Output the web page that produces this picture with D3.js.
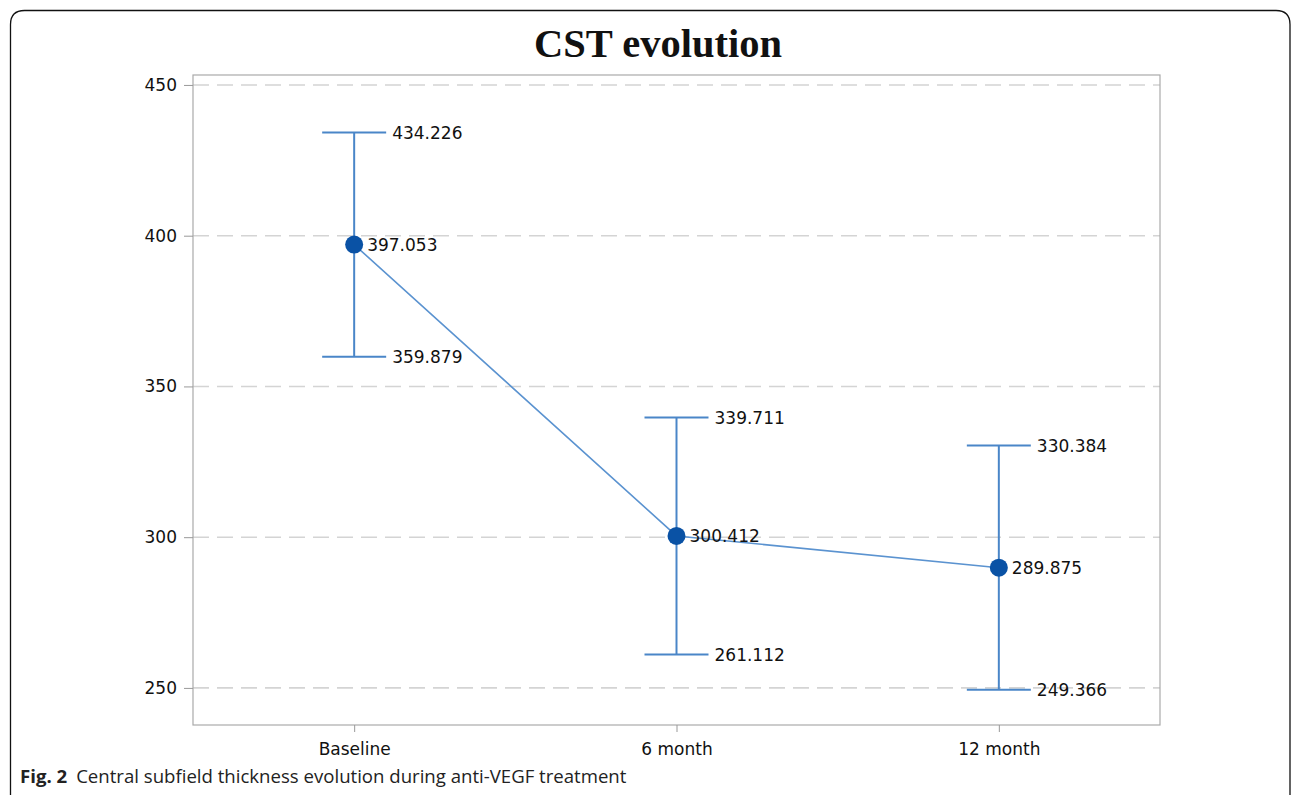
<!DOCTYPE html>
<html>
<head>
<meta charset="utf-8">
<script src="https://cdn.jsdelivr.net/npm/d3@7"></script>
<style>
  body { margin: 0; background: #fff; }
  svg { display: block; }
</style>
</head>
<body>
<div class="chart"></div>
<script>
// CST evolution - mean with confidence limits per visit

var w = 1292, h = 795;

var categories = ['Baseline', '6 month', '12 month'];
var means = [397.053, 300.412, 289.875];
var lower = [359.879, 261.112, 249.366];
var upper = [434.226, 339.711, 330.384];
var yTicks = [250, 300, 350, 400, 450];

var rows = categories.map(function(c, i) {
	return { cat: c, mean: means[i], lo: lower[i], hi: upper[i] };
});

var frame = { left: 193, right: 1160, top: 75, bottom: 725 };

var svg = d3.select('.chart').append('svg')
	.attr('width', w)
	.attr('height', h);

// outer figure border (rounded, runs off the bottom)
var r = 14;
svg.append('path')
	.attr('d', 'M10.5,' + (h + 5) + ' L10.5,' + (10.5 + r) +
		' Q10.5,10.5 ' + (10.5 + r) + ',10.5 L' + (1290 - r) + ',10.5' +
		' Q1290,10.5 1290,' + (10.5 + r) + ' L1290,' + (h + 5))
	.attr('fill', 'none')
	.attr('stroke', '#111')
	.attr('stroke-width', 1.3);

var x = d3.scalePoint()
	.domain(categories)
	.range([frame.left, frame.right])
	.padding(0.5);

var y = d3.scaleLinear()
	.domain([237.7, 453.3])
	.range([frame.bottom, frame.top]);

// title
svg.append('text')
	.attr('x', 658)
	.attr('y', 57)
	.attr('text-anchor', 'middle')
	.style('font-family', '"Liberation Serif", "DejaVu Serif", serif')
	.style('font-weight', 'bold')
	.style('font-size', '40.5px')
	.style('fill', '#111')
	.text('CST evolution');

// gridlines
svg.append('g')
	.selectAll('line')
	.data(yTicks)
	.enter().append('line')
	.attr('x1', frame.left)
	.attr('x2', frame.right)
	.attr('y1', function(d) { return y(d); })
	.attr('y2', function(d) { return y(d); })
	.attr('stroke', '#d4d4d4')
	.attr('stroke-width', 1.6)
	.attr('stroke-dasharray', '16,8');

// frame
svg.append('rect')
	.attr('x', frame.left)
	.attr('y', frame.top)
	.attr('width', frame.right - frame.left)
	.attr('height', frame.bottom - frame.top)
	.attr('fill', 'none')
	.attr('stroke', '#aaa')
	.attr('stroke-width', 1.2);

// axes
var yAxis = svg.append('g')
	.attr('transform', 'translate(' + frame.left + ',0)')
	.call(d3.axisLeft(y).tickValues(yTicks).tickSize(9).tickPadding(7));

var xAxis = svg.append('g')
	.attr('transform', 'translate(0,' + frame.bottom + ')')
	.call(d3.axisBottom(x).tickSize(7).tickPadding(7));

[yAxis, xAxis].forEach(function(a) {
	a.select('.domain').remove();
	a.selectAll('.tick line').attr('stroke', '#999');
	a.selectAll('.tick text')
		.style('font-family', '"DejaVu Sans", sans-serif')
		.style('font-size', '17px')
		.style('fill', '#111');
});
xAxis.selectAll('.tick text').attr('dy', '0.95em');

// connecting line
var blue = '#4a86c8';
svg.append('path')
	.datum(rows)
	.attr('fill', 'none')
	.attr('stroke', '#5b93d0')
	.attr('stroke-width', 1.6)
	.attr('d', d3.line()
		.x(function(d) { return x(d.cat); })
		.y(function(d) { return y(d.mean); }));

var g = svg.selectAll('.bar')
	.data(rows)
	.enter().append('g')
	.attr('class', 'bar');

g.append('line')
	.attr('x1', function(d) { return x(d.cat); })
	.attr('x2', function(d) { return x(d.cat); })
	.attr('y1', function(d) { return y(d.lo); })
	.attr('y2', function(d) { return y(d.hi); })
	.attr('stroke', blue)
	.attr('stroke-width', 2);

['lo', 'hi'].forEach(function(k) {
	g.append('line')
		.attr('x1', function(d) { return x(d.cat) - 32; })
		.attr('x2', function(d) { return x(d.cat) + 32; })
		.attr('y1', function(d) { return y(d[k]); })
		.attr('y2', function(d) { return y(d[k]); })
		.attr('stroke', blue)
		.attr('stroke-width', 2);

	g.append('text')
		.attr('x', function(d) { return x(d.cat) + 38; })
		.attr('y', function(d) { return y(d[k]); })
		.attr('dy', '0.36em')
		.style('font-family', '"DejaVu Sans", sans-serif')
		.style('font-size', '17px')
		.style('fill', '#111')
		.text(function(d) { return d[k].toFixed(3); });
});

g.append('circle')
	.attr('cx', function(d) { return x(d.cat); })
	.attr('cy', function(d) { return y(d.mean); })
	.attr('r', 9)
	.attr('fill', '#0a52a5');

g.append('text')
	.attr('x', function(d) { return x(d.cat) + 13; })
	.attr('y', function(d) { return y(d.mean); })
	.attr('dy', '0.36em')
	.style('font-family', '"DejaVu Sans", sans-serif')
	.style('font-size', '17px')
	.style('fill', '#111')
	.text(function(d) { return d.mean.toFixed(3); });

// caption
var cap = svg.append('text')
	.attr('x', 20)
	.attr('y', 783)
	.style('font-family', '"Open Sans", "Noto Sans", sans-serif')
	.style('font-size', '18.6px')
	.style('fill', '#222');
cap.append('tspan').style('font-weight', 'bold').text('Fig. 2');
cap.append('tspan').attr('dx', 9).text('Central subfield thickness evolution during anti-VEGF treatment');
</script>
</body>
</html>
